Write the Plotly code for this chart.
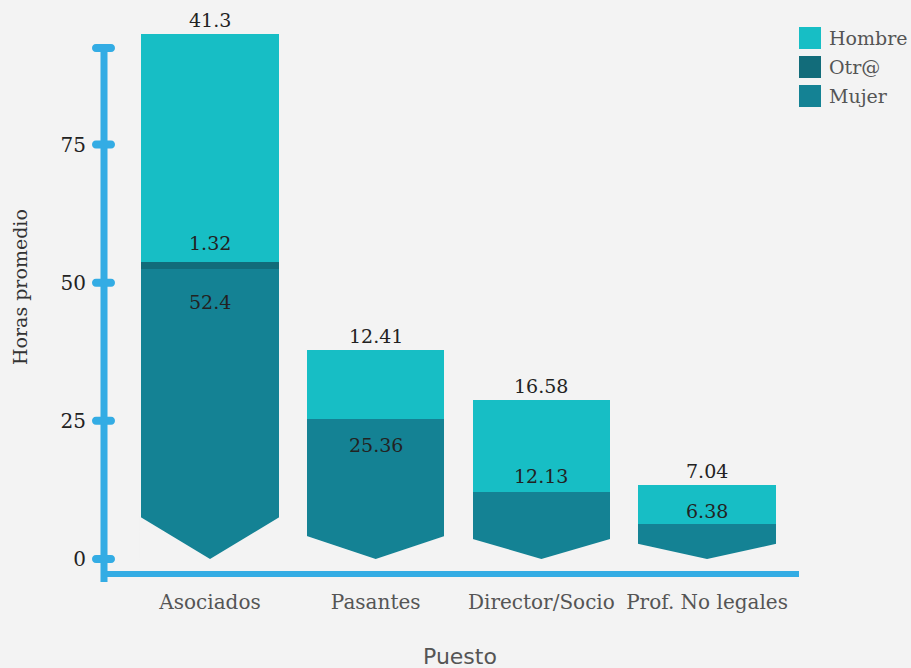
import plotly.graph_objects as go

# ---- data -------------------------------------------------------------
categories = ["Asociados", "Pasantes", "Director/Socio", "Prof. No legales"]
mujer = [52.4, 25.36, 12.13, 6.38]
otro = [1.32, None, None, None]
hombre = [41.3, 12.41, 16.58, 7.04]
y_ticks = [0, 25, 50, 75]
legend_order = ["Hombre", "Otr@", "Mujer"]

# ---- styling ----------------------------------------------------------
W, H = 911, 668
L, R, T, B = 104, 112, 30, 94
PLOT_W = W - L - R
PLOT_H = H - T - B

BG = "#F3F3F3"
AXIS = "#33ACE4"
COLORS = {"Mujer": "#148294", "Otr@": "#126C7A", "Hombre": "#17BEC5"}
SERIF = "DejaVu Serif"
SANS = "DejaVu Sans"
BAR_W = 0.83

# vertical offsets (px) of the Mujer value labels relative to the segment top
mujer_label_shift = [-33, -26, 16, 13]

idx = list(range(len(categories)))
otro_vals = [v or 0 for v in otro]
base_h = [m + o for m, o in zip(mujer, otro_vals)]
totals = [b + h for b, h in zip(base_h, hombre)]

# y scale: zero sits 15px above the bottom axis, tallest bar 4px under the top
k = (PLOT_H - 19) / max(totals)
y_range = [-15 / k, max(totals) + 4 / k]
x_range = [-0.64, 3.555]


def px_x(px):
    return (px - L) / PLOT_W


def px_y(py):
    return (H - B - py) / PLOT_H


fig = go.Figure()
fig.add_trace(go.Bar(x=idx, y=mujer, name="Mujer", width=BAR_W,
                     marker=dict(color=COLORS["Mujer"], line=dict(width=0))))
fig.add_trace(go.Bar(x=idx, y=otro_vals, name="Otr@", width=BAR_W,
                     marker=dict(color=COLORS["Otr@"], line=dict(width=0))))
fig.add_trace(go.Bar(x=idx, y=hombre, name="Hombre", width=BAR_W,
                     marker=dict(color=COLORS["Hombre"], line=dict(width=0))))

shapes = []
# chevron cut at the foot of each column
for i, tot in zip(idx, totals):
    d = 0.06 * tot + 2
    left, right = i - BAR_W / 2 - 0.01, i + BAR_W / 2 + 0.01
    shapes.append(dict(
        type="path", xref="x", yref="y", layer="above",
        path=f"M {left},-0.2 L {left},{d} L {i},0 L {right},{d} L {right},-0.2 Z",
        fillcolor=BG, line=dict(width=0)))

# axis lines
shapes.append(dict(type="line", xref="paper", yref="paper", x0=0, x1=0,
                   y0=px_y(582), y1=px_y(48), line=dict(color=AXIS, width=7)))
shapes.append(dict(type="line", xref="paper", yref="paper", x0=0, x1=1,
                   y0=0, y1=0, line=dict(color=AXIS, width=6)))

# rounded tick capsules
capsule = ("M -8,4 L 7,4 C 12.3,4 12.3,-4 7,-4 "
           "L -8,-4 C -13.3,-4 -13.3,4 -8,4 Z")
for v in y_ticks:
    shapes.append(dict(type="path", xref="paper", yref="y",
                       xsizemode="pixel", ysizemode="pixel",
                       xanchor=0, yanchor=v, path=capsule,
                       fillcolor=AXIS, line=dict(width=0)))
shapes.append(dict(type="path", xref="paper", yref="paper",
                   xsizemode="pixel", ysizemode="pixel",
                   xanchor=0, yanchor=px_y(48), path=capsule,
                   fillcolor=AXIS, line=dict(width=0)))

annotations = []
# legend
for j, name in enumerate(legend_order):
    top = 27 + 29 * j
    shapes.append(dict(type="rect", xref="paper", yref="paper",
                       x0=px_x(799), x1=px_x(821),
                       y0=px_y(top + 22), y1=px_y(top),
                       fillcolor=COLORS[name], line=dict(width=0)))
    annotations.append(dict(xref="paper", yref="paper", x=px_x(827),
                            y=px_y(top + 11), xanchor="left", yanchor="middle",
                            text=name, showarrow=False,
                            font=dict(family=SERIF, size=19, color="#555555")))

label_font = dict(family=SERIF, size=19, color="#222222")
for i in idx:
    annotations.append(dict(x=i, y=totals[i], text=f"{hombre[i]:g}",
                            showarrow=False, yanchor="bottom", yshift=1,
                            font=label_font))
    annotations.append(dict(x=i, y=mujer[i], text=f"{mujer[i]:g}",
                            showarrow=False, yanchor="middle",
                            yshift=mujer_label_shift[i], font=label_font))
    if otro[i] is not None:
        annotations.append(dict(x=i, y=base_h[i], text=f"{otro[i]:g}",
                                showarrow=False, yanchor="bottom", yshift=6,
                                font=label_font))

# axis titles
annotations.append(dict(xref="paper", yref="paper", x=px_x(20), y=px_y(287),
                        text="Horas promedio", textangle=-90, showarrow=False,
                        xanchor="center", yanchor="middle",
                        font=dict(family=SERIF, size=19, color="#333333")))
annotations.append(dict(xref="paper", yref="paper", x=px_x(460), y=px_y(656),
                        text="Puesto", showarrow=False,
                        xanchor="center", yanchor="middle",
                        font=dict(family=SANS, size=22, color="#555555")))

fig.update_layout(
    width=W, height=H,
    margin=dict(l=L, r=R, t=T, b=B, pad=0),
    paper_bgcolor=BG, plot_bgcolor=BG,
    barmode="stack", showlegend=False,
    shapes=shapes, annotations=annotations,
    xaxis=dict(range=x_range, tickvals=idx, ticktext=categories,
               showgrid=False, zeroline=False, showline=False,
               ticks="outside", ticklen=10, tickcolor="rgba(0,0,0,0)",
               tickfont=dict(family=SERIF, size=20, color="#555555")),
    yaxis=dict(range=y_range, tickvals=y_ticks,
               showgrid=False, zeroline=False, showline=False,
               ticks="outside", ticklen=13, tickcolor="rgba(0,0,0,0)",
               tickfont=dict(family=SERIF, size=20, color="#222222")),
    hovermode=False,
)

fig.write_html("out.html")
